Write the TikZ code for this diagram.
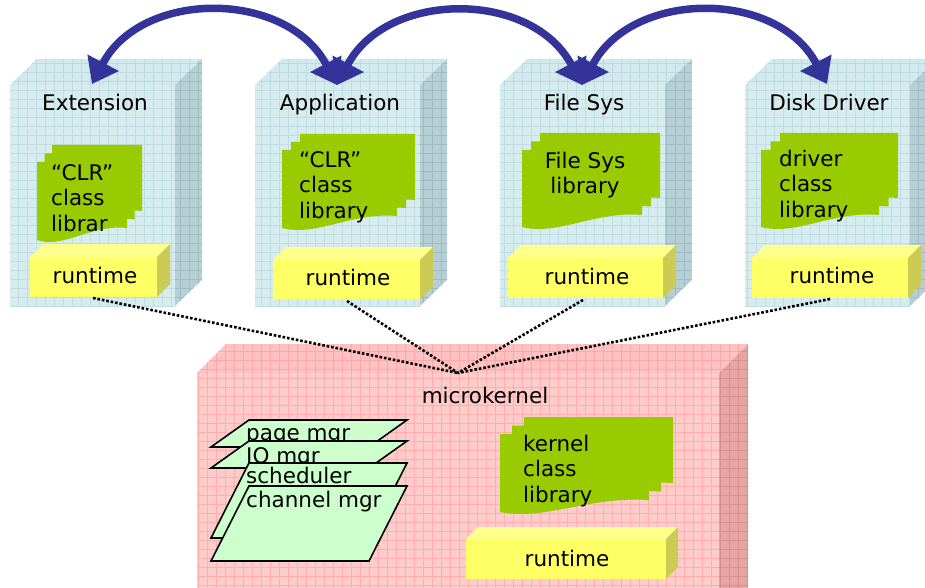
\documentclass[tikz,border=0pt]{standalone}
\usepackage{fontspec}
\setmainfont{DejaVu Sans}
\usetikzlibrary{arrows.meta}
\definecolor{cbF}{HTML}{D6ECEF}
\definecolor{cbFG}{HTML}{BFDDE2}
\definecolor{cbT}{HTML}{D2E9ED}
\definecolor{cbTG}{HTML}{BCDADF}
\definecolor{cbS}{HTML}{B6CFD4}
\definecolor{cbSG}{HTML}{9DBBC1}
\definecolor{cpF}{HTML}{FFCCCC}
\definecolor{cpFG}{HTML}{FFAEAE}
\definecolor{cpT}{HTML}{FFC2C2}
\definecolor{cpTG}{HTML}{FFA6A6}
\definecolor{cpS}{HTML}{E7A4A4}
\definecolor{cpSG}{HTML}{D68F8F}
\definecolor{libgreen}{HTML}{99CC00}
\definecolor{rtF}{HTML}{FFFF66}
\definecolor{rtT}{HTML}{FFFF8C}
\definecolor{rtS}{HTML}{CCCC55}
\definecolor{mgrgreen}{HTML}{CCFFCC}
\definecolor{arcblue}{HTML}{333399}

% L R T B dx dy colour-prefix
\newcommand\gridcube[7]{%
  \begin{scope}
    \clip (#1,#3) rectangle (#2,#4);
    \fill[#7F] (#1,#3) rectangle (#2,#4);
    \draw[#7FG,line width=0.7pt] ({#1-30},{#3-30}) grid[step=9pt] ({#2+30},{#4+30});
  \end{scope}
  \begin{scope}
    \clip (#1,#3) -- ++(#5,#6) -- ({#2+#5},{#3+#6}) -- (#2,#3) -- cycle;
    \fill[#7T] (#1,#3) -- ++(#5,#6) -- ({#2+#5},{#3+#6}) -- (#2,#3) -- cycle;
    \draw[#7TG,line width=0.7pt] ({#1-30},{#3+#6-30}) grid[step=9pt] ({#2+#5+30},{#3+30});
  \end{scope}
  \begin{scope}
    \clip (#2,#3) -- ++(#5,#6) -- ({#2+#5},{#4+#6}) -- (#2,#4) -- cycle;
    \fill[#7S] (#2,#3) -- ++(#5,#6) -- ({#2+#5},{#4+#6}) -- (#2,#4) -- cycle;
    \draw[#7SG,line width=0.7pt] ({#2-30},{#3+#6-30}) grid[step=9pt] ({#2+#5+30},{#4+30});
  \end{scope}
}
% L R T B depth
\newcommand\rtcube[5]{%
  \fill[rtF] (#1,#3) rectangle (#2,#4);
  \fill[rtT] (#1,#3) -- ++(#5,-#5) -- ({#2+#5},{#3-#5}) -- (#2,#3) -- cycle;
  \fill[rtS] (#2,#3) -- ++(#5,-#5) -- ({#2+#5},{#4-#5}) -- (#2,#4) -- cycle;
}
% x y w h
\newcommand\docshape[4]{%
  \fill[libgreen] ({#1},{#2}) -- ({#1+#3},{#2}) -- ({#1+#3},{#2+#4-12})
    .. controls ({#1+0.6*#3},{#2+#4-16}) and ({#1+0.3*#3},{#2+#4+9}) .. ({#1},{#2+#4}) -- cycle;
}
% x y w h ox oy
\newcommand\libstack[6]{%
  \docshape{#1+2*#5}{#2+2*#6}{#3}{#4}%
  \docshape{#1+#5}{#2+#6}{#3}{#4}%
  \docshape{#1}{#2}{#3}{#4}%
}

\tikzset{
  lbl/.style={font=\fontsize{21.5pt}{25.5pt}\selectfont, inner sep=0pt, text=black},
  libtxt/.style={lbl, align=left, anchor=west},
  mgr/.style={fill=mgrgreen, draw=black, line width=1.6pt, line join=miter},
  dotline/.style={line width=2.6pt, dash pattern=on 2.6pt off 1.9pt, black},
  arc/.style={draw=arcblue, line width=7.5pt,
    {Triangle[length=24pt,width=34pt]}-{Triangle[length=24pt,width=34pt]}}
}

\begin{document}
\begin{tikzpicture}[x=1pt,y=-1pt]
\useasboundingbox (0,0) rectangle (925,588);
\clip (0,0) rectangle (925,588);

% ---- top boxes
\gridcube{10}{175}{85}{306}{27}{-26}{cb}
\gridcube{255}{420}{85}{306}{27}{-26}{cb}
\gridcube{500}{665}{85}{306}{27}{-26}{cb}
\gridcube{745}{910}{85}{306}{27}{-26}{cb}

\node[lbl, anchor=base] (ext) at (95,111) {Extension};
\node[lbl, anchor=base] (app) at (340,111) {Application};
\node[lbl, anchor=base] (fs) at (584,111) {File Sys};
\node[lbl, anchor=base] (disk) at (829,111) {Disk Driver};

% libraries
\libstack{37}{162}{90}{78}{7.5}{-8.5}
\libstack{282}{150}{115}{78}{9}{-8}
\libstack{522}{150}{120}{77}{9}{-8.5}
\libstack{761}{150}{118}{77}{9.5}{-8.5}

\node[libtxt] (extlib) at (51,198) {“CLR”\\class\\librar};
\node[libtxt] (applib) at (299,187) {“CLR”\\class\\library};
\node[lbl, align=center] (fslib) at (585,175) {File Sys\\library};
\node[libtxt] (disklib) at (779,186) {driver\\class\\library};

% runtimes
\rtcube{30}{157}{257}{297}{13}
\rtcube{273}{420}{260}{299}{13}
\rtcube{508}{663}{258}{298}{13}
\rtcube{752}{908}{258}{298}{13}

\node[lbl, anchor=base] (rt1) at (95,283) {runtime};
\node[lbl, anchor=base] (rt2) at (348,285) {runtime};
\node[lbl, anchor=base] (rt3) at (587,284) {runtime};
\node[lbl, anchor=base] (rt4) at (832,283) {runtime};

% ---- microkernel
\gridcube{197}{719}{373}{620}{29}{-29}{cp}
\node[lbl, anchor=base] (mk) at (485,403) {microkernel};

\libstack{500}{434}{149}{78}{12}{-8.5}
\node[libtxt] (klib) at (523,471) {kernel\\class\\library};

\rtcube{466}{666}{539}{579}{12}
\node[lbl, anchor=base] (rt5) at (567,566) {runtime};

% managers
\path[mgr] (249,420) -- (407,420) -- (369,447) -- (211,447) -- cycle;
\node[lbl, anchor=base west] (pm) at (246,440) {page mgr};
\path[mgr] (249,441) -- (407,441) -- (369,468) -- (211,468) -- cycle;
\node[lbl, anchor=base west] (io) at (246,463) {IO mgr};
\path[mgr] (249,463) -- (407,463) -- (369,538) -- (211,538) -- cycle;
\node[lbl, anchor=base west] (sch) at (246,483) {scheduler};
\path[mgr] (249,486) -- (407,486) -- (369,561) -- (211,561) -- cycle;
\node[lbl, anchor=base west] (ch) at (246,507) {channel mgr};

% ---- dotted connectors
\coordinate (hub) at (458,373);
\coordinate (r1b) at (93,298);
\coordinate (r2b) at (347,301);
\coordinate (r3b) at (583,300);
\coordinate (r4b) at (830,299);
\draw[dotline] (r1b) -- (hub);
\draw[dotline] (r2b) -- (hub);
\draw[dotline] (r3b) -- (hub);
\draw[dotline] (r4b) -- (hub);

% ---- arcs
\coordinate (tExt) at (92,84);
\coordinate (tApp) at (337,85);
\coordinate (tFS) at (582,85);
\coordinate (tDisk) at (827,84);
\draw[arc] (tApp) .. controls +(-50,-95) and +(50,-95) .. (tExt);
\draw[arc] (tApp) .. controls +(50,-95) and +(-50,-95) .. (tFS);
\draw[arc] (tFS) .. controls +(50,-95) and +(-50,-95) .. (tDisk);
\end{tikzpicture}
\end{document}
